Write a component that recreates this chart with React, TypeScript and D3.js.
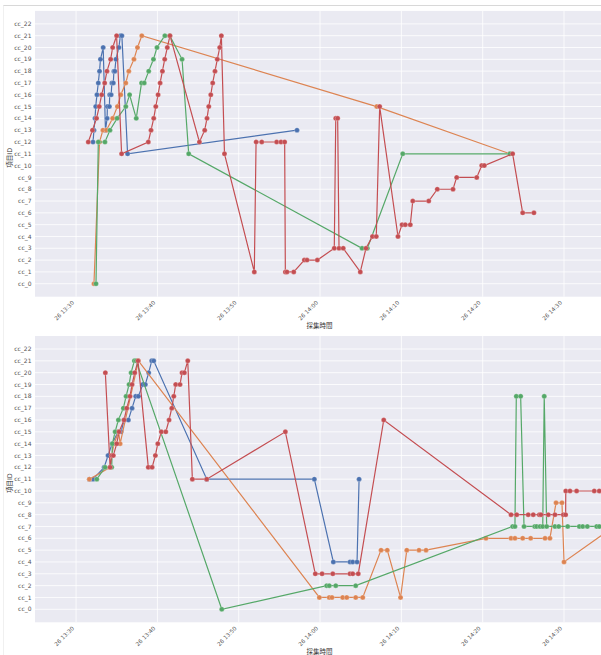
import React from "react";
import * as d3 from "d3";

// ---------- data ----------
const DAY = "2024-01-26";
const Y_LABELS = ["cc_0","cc_1","cc_2","cc_3","cc_4","cc_5","cc_6","cc_7","cc_8","cc_9","cc_10","cc_11","cc_12","cc_13","cc_14","cc_15","cc_16","cc_17","cc_18","cc_19","cc_20","cc_21","cc_22"];
const X_TICKS = ["13:30:00","13:40:00","13:50:00","14:00:00","14:10:00","14:20:00","14:30:00"];
const X_START = "13:24:57";
const X_END = "14:34:55";
const X_LABEL = "採集時間";
const Y_LABEL = "項目ID";
const COLORS = ["#4C72B0", "#DD8452", "#55A868", "#C44E52"];

// top chart
const topBlueT = ["13:32:05","13:32:12","13:32:20","13:32:25","13:32:34","13:32:44","13:32:53","13:33:00","13:33:20","13:33:37","13:33:49","13:33:51","13:34:06","13:34:08","13:34:19","13:34:24","13:34:35","13:34:39","13:34:46","13:34:54","13:35:16","13:35:27","13:35:38","13:36:20","13:57:10"];
const topBlueV = [12,13,14,15,16,17,18,19,20,13,14,15,15,16,16,17,17,18,18,19,20,21,21,11,13];

const topOrangeT = ["13:32:12","13:32:53","13:33:18","13:33:44","13:34:30","13:35:05","13:35:30","13:36:07","13:36:29","13:37:07","13:37:33","13:38:05","14:06:58","14:23:21"];
const topOrangeV = [0,12,13,13,14,15,16,17,18,19,20,21,15,11];

const topGreenT = ["13:32:27","13:32:44","13:33:33","13:34:10","13:35:03","13:36:07","13:36:35","13:37:24","13:38:03","13:38:23","13:38:56","13:39:31","13:39:57","13:40:55","13:41:31","13:43:02","13:43:51","14:05:10","14:05:49","14:10:10","14:23:21"];
const topGreenV = [0,12,12,13,14,15,16,14,17,17,18,19,20,21,21,19,11,3,3,11,11];

const topRedT = ["13:31:30","13:32:01","13:32:31","13:32:51","13:33:09","13:33:31","13:33:48","13:34:15","13:34:30","13:34:59","13:35:36","13:38:53","13:39:13","13:39:33","13:39:48","13:40:05","13:40:20","13:40:37","13:40:54","13:41:13","13:41:33","13:45:10","13:45:49","13:46:06","13:46:19","13:46:34","13:46:48","13:47:05","13:47:22","13:47:40","13:47:52","13:48:15","13:51:55","13:52:08","13:52:50","13:54:40","13:55:12","13:55:39","13:55:44","13:55:56","13:56:46","13:58:04","13:58:24","13:59:40","14:01:45","14:01:56","14:02:10","14:02:20","14:02:51","14:04:57","14:05:39","14:06:27","14:06:55","14:07:20","14:09:35","14:10:05","14:10:29","14:11:06","14:11:24","14:13:22","14:14:25","14:16:21","14:16:48","14:19:16","14:19:53","14:20:12","14:23:41","14:24:55","14:26:18"];
const topRedV = [12,13,14,15,16,17,18,19,20,21,11,12,13,14,15,16,17,18,19,20,21,12,13,14,15,16,17,18,19,20,21,11,1,12,12,12,12,12,1,1,1,2,2,2,3,14,14,3,3,1,3,4,4,15,4,5,5,5,7,7,8,8,9,9,10,10,11,6,6];

// bottom chart
const botBlueT = ["13:31:38","13:32:05","13:33:27","13:33:56","13:34:26","13:35:10","13:35:32","13:35:54","13:36:26","13:36:53","13:37:20","13:37:40","13:38:12","13:38:31","13:38:56","13:39:18","13:39:33","13:46:04","13:59:18","14:01:38","14:03:41","14:04:01","14:04:33","14:04:48"];
const botBlueV = [11,11,12,13,14,15,15,16,16,17,18,18,19,19,20,21,21,11,11,4,4,4,4,11];

const botOrangeT = ["13:31:38","13:34:11","13:34:23","13:34:40","13:35:14","13:35:25","13:37:40","13:59:55","14:01:08","14:01:28","14:02:47","14:03:17","14:04:23","14:05:15","14:07:30","14:08:16","14:09:54","14:10:40","14:12:10","14:13:02","14:20:24","14:23:29","14:23:58","14:24:55","14:25:54","14:27:40","14:28:16","14:29:01","14:29:45","14:30:00","14:36:08"];
const botOrangeV = [11,12,13,14,15,14,21,1,1,1,1,1,1,1,5,5,1,5,5,5,6,6,6,6,6,6,6,9,9,4,7];

const botGreenT = ["13:32:33","13:33:34","13:34:23","13:34:28","13:34:48","13:35:12","13:35:49","13:36:09","13:36:31","13:36:46","13:37:10","13:37:23","13:47:55","14:00:49","14:01:08","14:01:56","14:04:23","14:23:41","14:23:58","14:24:08","14:24:40","14:25:05","14:26:24","14:26:38","14:27:03","14:27:23","14:27:34","14:27:52","14:28:53","14:29:21","14:30:27","14:31:53","14:32:18","14:32:52","14:34:01","14:34:20","14:35:39"];
const botGreenV = [11,12,12,14,15,16,17,18,19,20,21,21,0,2,2,2,2,7,7,18,18,7,7,7,7,7,18,7,7,7,7,7,7,7,7,7,7];

const botRedT = ["13:33:36","13:34:11","13:34:23","13:34:35","13:35:00","13:35:17","13:35:54","13:36:14","13:36:38","13:36:53","13:37:13","13:37:37","13:38:53","13:39:21","13:39:45","13:40:03","13:40:29","13:41:02","13:41:26","13:41:46","13:42:01","13:42:15","13:42:47","13:43:02","13:43:19","13:43:44","13:44:18","13:46:04","13:55:44","13:59:25","14:00:15","14:01:34","14:03:41","14:04:01","14:04:42","14:07:50","14:23:29","14:24:11","14:25:36","14:26:13","14:26:58","14:27:10","14:28:04","14:28:53","14:29:55","14:30:12","14:30:13","14:30:44","14:31:33","14:33:43","14:34:20","14:35:39"];
const botRedV = [20,12,13,13,14,15,16,17,18,19,20,21,12,12,13,14,15,15,16,17,18,19,19,20,20,21,11,11,15,3,3,3,3,3,3,16,8,8,8,8,8,8,8,8,8,8,10,10,10,10,10,10];

// ---------- layout ----------
const W = 601;
const H = 655;
const PLOT_LEFT = 35;
const PLOT_RIGHT = 604;
const PANELS = [
  { top: 10.9, bottom: 296.7, series: [[topBlueT, topBlueV], [topOrangeT, topOrangeV], [topGreenT, topGreenV], [topRedT, topRedV]] },
  { top: 336, bottom: 622.3, series: [[botBlueT, botBlueV], [botOrangeT, botOrangeV], [botGreenT, botGreenV], [botRedT, botRedV]] },
];

const parse = d3.timeParse("%Y-%m-%d %H:%M:%S");
const toDate = (s: string) => parse(`${DAY} ${s}`) as Date;
const fmt = d3.timeFormat("%d %H:%M");
const FONT = "'DejaVu Sans', 'Noto Sans CJK JP', sans-serif";

function Panel({ idx, top, bottom, series }: any) {
  const x = d3.scaleTime().domain([toDate(X_START), toDate(X_END)]).range([PLOT_LEFT, PLOT_RIGHT]);
  const y = d3.scaleLinear().domain([-1.1, 23.1]).range([bottom, top]);
  const ticks = X_TICKS.map(toDate);
  const line = d3.line<[Date, number]>().x((d) => x(d[0])).y((d) => y(d[1]));
  const clipId = `clip${idx}`;
  return (
    <g>
      <defs>
        <clipPath id={clipId}>
          <rect x={PLOT_LEFT} y={top} width={PLOT_RIGHT - PLOT_LEFT} height={bottom - top} />
        </clipPath>
      </defs>
      <rect x={PLOT_LEFT} y={top} width={PLOT_RIGHT - PLOT_LEFT} height={bottom - top} fill="#EAEAF2" />
      {Y_LABELS.map((lab, i) => (
        <line key={"hg" + i} x1={PLOT_LEFT} x2={PLOT_RIGHT} y1={y(i)} y2={y(i)} stroke="#fff" strokeWidth={0.8} />
      ))}
      {ticks.map((t, i) => (
        <line key={"vg" + i} x1={x(t)} x2={x(t)} y1={top} y2={bottom} stroke="#fff" strokeWidth={0.8} />
      ))}
      <g clipPath={`url(#${clipId})`}>
        {series.map(([ts, vs]: any, si: number) => {
          const pts: [Date, number][] = ts.map((t: string, i: number) => [toDate(t), vs[i]]);
          return (
            <g key={si}>
              <path d={line(pts) || ""} fill="none" stroke={COLORS[si]} strokeWidth={1.2} />
              {pts.map((p, i) => (
                <circle key={i} cx={x(p[0])} cy={y(p[1])} r={2.5} fill={COLORS[si]} stroke="#fff" strokeWidth={0.35} strokeOpacity={0.7} />
              ))}
            </g>
          );
        })}
      </g>
      {Y_LABELS.map((lab, i) => (
        <text key={"yl" + i} x={PLOT_LEFT - 3.5} y={y(i)} dy="0.35em" textAnchor="end" fontSize={6} fill="#555" fontFamily={FONT}>
          {lab}
        </text>
      ))}
      {ticks.map((t, i) => (
        <text
          key={"xl" + i}
          transform={`translate(${x(t) - 3},${bottom + 5}) rotate(-45)`}
          dy="0.35em"
          textAnchor="end"
          fontSize={5.6}
          fill="#555"
          fontFamily={FONT}
        >
          {fmt(t)}
        </text>
      ))}
      <text x={(PLOT_LEFT + PLOT_RIGHT) / 2} y={bottom + 31.5} textAnchor="middle" fontSize={6.5} fill="#333" fontFamily={FONT}>
        {X_LABEL}
      </text>
      <text transform={`translate(12,${(top + bottom) / 2 + 4}) rotate(-90)`} textAnchor="middle" fontSize={6.5} fill="#333" fontFamily={FONT}>
        {Y_LABEL}
      </text>
    </g>
  );
}

export default function App() {
  return (
    <svg width={W} height={H} style={{ position: "absolute", left: 0, top: 0, display: "block", background: "#fff" }}>
      <line x1={3} x2={W} y1={5.5} y2={5.5} stroke="#d8d8d8" strokeWidth={1} />
      <line x1={3.5} x2={3.5} y1={5.5} y2={H} stroke="#f0f0f0" strokeWidth={1} />
      {PANELS.map((p, i) => (
        <Panel key={i} idx={i} {...p} />
      ))}
    </svg>
  );
}
